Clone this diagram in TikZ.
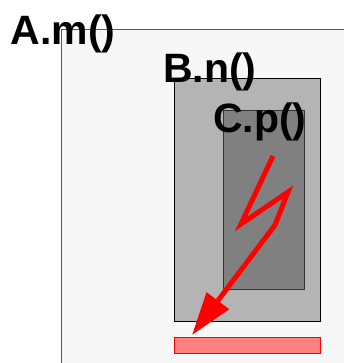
\documentclass[tikz,border=0pt]{standalone}
\usepackage{fontspec}
\setmainfont{Liberation Sans}
\usetikzlibrary{arrows.meta, calc}
\definecolor{FrameGray}{HTML}{F7F7F7}
\definecolor{MidGray}{HTML}{B4B4B4}
\definecolor{DarkGray}{HTML}{808080}
\definecolor{ErrRed}{HTML}{FF8080}

\begin{document}
\begin{tikzpicture}[
    x=1pt, y=-1pt,
    frame/.style={draw, line width=1pt, inner sep=0pt, anchor=north west},
    call/.style={anchor=base west, inner sep=0pt,
        font=\fontsize{41}{41}\selectfont\bfseries},
    bolt/.style={draw=red, line width=5pt,
        -{Triangle[length=43pt, width=27pt]}},
]
\useasboundingbox (0,0) rectangle (344,363);

% outer call
\node[frame, draw=black!65, fill=FrameGray,
      minimum width=320pt, minimum height=360pt] (A) at (61,29) {};
\node[call] (Alab) at (10.5,44.5) {A.m()};

% nested call
\node[frame, fill=MidGray, minimum width=146pt, minimum height=243pt] (B) at (174,78) {};
\node[call] (Blab) at (163,83) {B.n()};

% innermost call
\node[frame, draw=black!80, fill=DarkGray,
      minimum width=81pt, minimum height=179pt] (C) at (223,110) {};
\node[call] (Clab) at (213,132.5) {C.p()};

% failure
\node[frame, draw=red, fill=ErrRed, minimum width=146pt, minimum height=16pt] (err) at (174,337) {};
\coordinate (zap) at (273,156);
\coordinate (tip) at ($(err.north west)+(18,-2)$);
\draw[bolt] (zap) -- (241,224) -- (288,192) -- (275,225) -- (tip);

\end{tikzpicture}
\end{document}
